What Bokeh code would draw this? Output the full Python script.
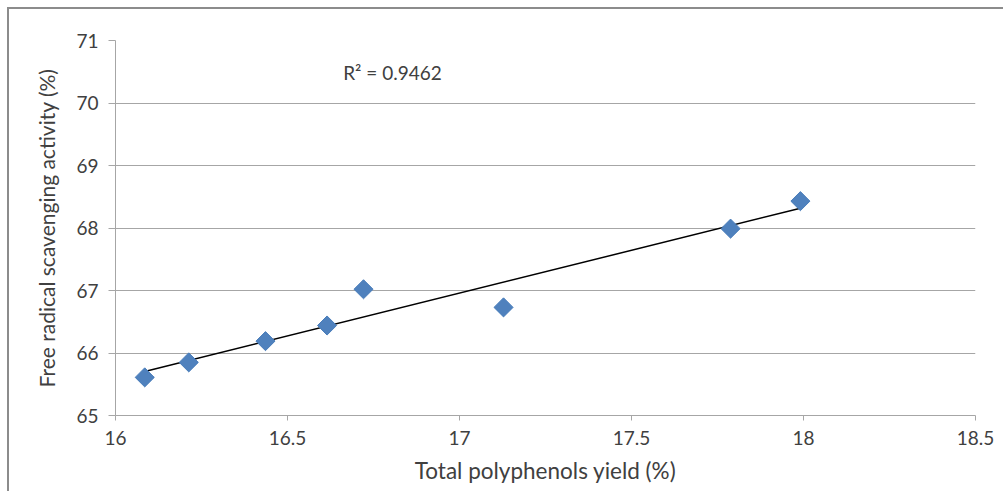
import numpy as np
from bokeh.plotting import figure
from bokeh.models import Range1d, FixedTicker, Label
from bokeh.embed import file_html
from bokeh.resources import INLINE

# Data
polyphenols_yield = [16.085, 16.213, 16.436, 16.615, 16.721, 17.128, 17.788, 17.991]
scavenging_activity = [65.61, 65.85, 66.19, 66.44, 67.02, 66.73, 67.99, 68.43]
x_ticks = [16, 16.5, 17, 17.5, 18, 18.5]
y_ticks = [65, 66, 67, 68, 69, 70, 71]
r2_label = "R² = 0.9462"
x_title = "Total polyphenols yield (%)"
y_title = "Free radical scavenging activity (%)"

FONT = "Lato"
TXT = "#404040"
GRID = "#a6a6a6"

p = figure(width=996, height=484, output_backend="svg", toolbar_location=None,
           x_range=Range1d(16, 18.5), y_range=Range1d(65, 71),
           min_border_left=106, min_border_right=30, min_border_top=31, min_border_bottom=78)
p.margin = (7, 0, 0, 7)
p.styles = {"border-left": "2px solid #8c8c8c", "border-top": "2px solid #8c8c8c"}
p.outline_line_color = None
p.background_fill_color = "white"
p.border_fill_color = "white"

p.xaxis.ticker = FixedTicker(ticks=x_ticks)
p.yaxis.ticker = FixedTicker(ticks=y_ticks)
p.xaxis.minor_tick_line_color = None
p.yaxis.minor_tick_line_color = None
for ax in (p.xaxis, p.yaxis):
    ax.axis_line_color = GRID
    ax.major_tick_line_color = GRID
    ax.major_tick_in = 0
    ax.major_label_text_font = FONT
    ax.major_label_text_font_size = "19px"
    ax.major_label_text_color = TXT
    ax.axis_label_text_font = FONT
    ax.axis_label_text_font_style = "normal"
    ax.axis_label_text_color = TXT
p.xaxis.axis_label_text_font_size = "22.5px"
p.yaxis.axis_label_text_font_size = "21px"
p.xaxis.major_tick_out = 5
p.yaxis.major_tick_out = 7
p.xaxis.major_label_standoff = 10
p.yaxis.major_label_standoff = 10
p.xaxis.axis_label = x_title
p.yaxis.axis_label = y_title
p.xaxis.axis_label_standoff = 9
p.yaxis.axis_label_standoff = 14

p.xgrid.grid_line_color = None
p.ygrid.grid_line_color = GRID
p.ygrid.grid_line_width = 1

# Linear trendline
coef = np.polyfit(polyphenols_yield, scavenging_activity, 1)
xs = [min(polyphenols_yield), max(polyphenols_yield)]
ys = [coef[0] * v + coef[1] for v in xs]
p.line(xs, ys, line_color="black", line_width=1.5)

p.scatter(polyphenols_yield, scavenging_activity, marker="square", angle=np.pi / 4,
          size=13.5, fill_color="#4f81bd", line_color="#4a7ebb", line_width=1)

p.add_layout(Label(x=16.805, y=70.49, text=r2_label, text_font=FONT,
                   text_font_size="19px", text_color=TXT,
                   text_align="center", text_baseline="middle"))

open("out.html", "w").write(file_html(p, INLINE))
